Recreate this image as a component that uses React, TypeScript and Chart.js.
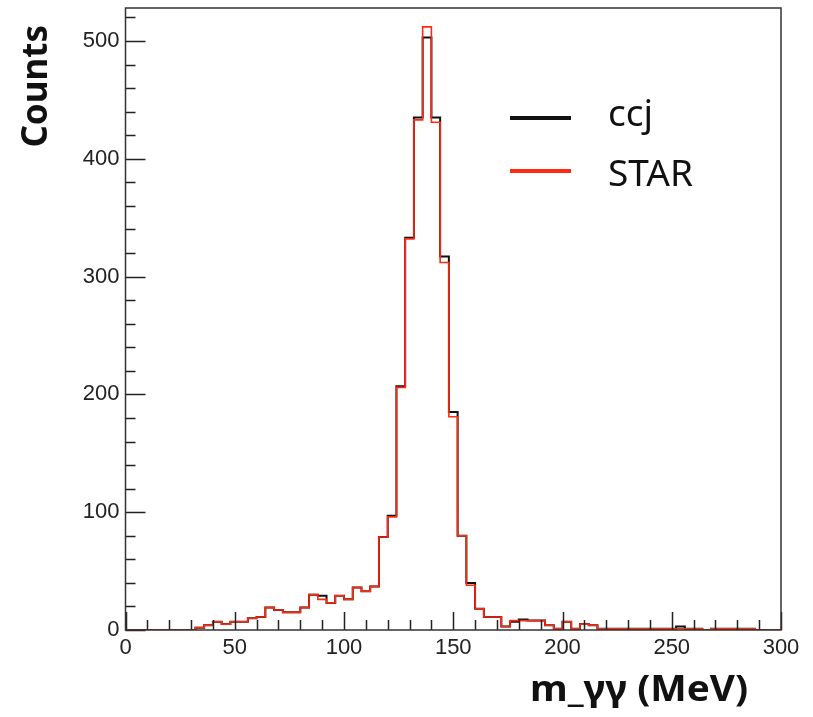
import { useEffect, useRef } from 'react';
import { Chart, registerables } from 'chart.js';

Chart.register(...registerables);

// Histogram bins: low edges (MeV), 4 MeV wide, 0..300
const binLowEdges = [
  0, 4, 8, 12, 16, 20, 24, 28, 32, 36, 40, 44, 48, 52, 56, 60, 64, 68, 72, 76,
  80, 84, 88, 92, 96, 100, 104, 108, 112, 116, 120, 124, 128, 132, 136, 140, 144, 148, 152, 156,
  160, 164, 168, 172, 176, 180, 184, 188, 192, 196, 200, 204, 208, 212, 216, 220, 224, 228, 232, 236,
  240, 244, 248, 252, 256, 260, 264, 268, 272, 276, 280, 284, 288, 292, 296,
];
const xUpperEdge = 300;

const ccjCounts = [
  0, 0, 0, 0, 0, 0, 0, 0, 2, 4, 7, 5, 7, 7, 10, 11, 19, 17, 15, 15,
  19, 30, 29, 23, 29, 26, 36, 33, 37, 79, 97, 207, 333, 435, 503, 435, 317, 185, 80, 40,
  18, 11, 11, 3, 7, 9, 8, 8, 4, 1, 7, 1, 5, 4, 1, 1, 1, 1, 1, 1,
  1, 1, 1, 3, 1, 1, 0, 1, 1, 1, 1, 1, 0, 0, 0,
];
const starCounts = [
  0, 0, 0, 0, 0, 0, 0, 0, 2, 4, 7, 5, 7, 7, 10, 11, 19, 17, 15, 15,
  19, 30, 26, 23, 29, 26, 36, 33, 37, 79, 96, 206, 332, 433, 512, 431, 312, 181, 80, 38,
  18, 11, 11, 3, 8, 8, 8, 8, 4, 1, 7, 1, 5, 4, 1, 1, 1, 1, 1, 1,
  1, 1, 1, 1, 1, 1, 0, 1, 1, 1, 1, 1, 0, 0, 0,
];

const seriesNames = ['ccj', 'STAR'];
const seriesColors = ['#111111', '#ff2a12'];
const xTickValues = [0, 50, 100, 150, 200, 250, 300];
const yTickValues = [0, 100, 200, 300, 400, 500];
const xTitle = 'm_γγ (MeV)';
const yTitle = 'Counts';
const Y_MAX = 528;

function toSteps(vals: number[]) {
  const pts = binLowEdges.map((x, i) => ({ x, y: vals[i] }));
  pts.push({ x: xUpperEdge, y: vals[vals.length - 1] });
  return pts;
}

const rootStyle = {
  id: 'rootStyle',
  afterDraw(chart: any) {
    const { ctx, chartArea } = chart;
    const xs = chart.scales.x;
    const ys = chart.scales.y;
    const { left, right, top, bottom } = chartArea;
    ctx.save();
    // ticks (inside)
    ctx.strokeStyle = '#222';
    ctx.lineWidth = 1.5;
    ctx.beginPath();
    for (let v = 0; v <= 300; v += 10) {
      const px = Math.round(xs.getPixelForValue(v)) + 0.5;
      const len = v % 50 === 0 ? 18 : 10;
      ctx.moveTo(px, bottom);
      ctx.lineTo(px, bottom - len);
    }
    for (let v = 0; v <= Y_MAX; v += 20) {
      const py = Math.round(ys.getPixelForValue(v)) + 0.5;
      const len = v % 100 === 0 ? 20 : 10;
      ctx.moveTo(left, py);
      ctx.lineTo(left + len, py);
    }
    ctx.stroke();
    // frame
    ctx.strokeStyle = '#333';
    ctx.lineWidth = 1.5;
    ctx.strokeRect(left, top, right - left, bottom - top);

    // axis titles
    ctx.fillStyle = '#111';
    ctx.font = 'bold 35px "Noto Sans"';
    ctx.textBaseline = 'alphabetic';
    ctx.textAlign = 'left';
    const w = ctx.measureText(xTitle).width;
    const targetW = 218;
    ctx.save();
    ctx.translate(748 - targetW, 701);
    ctx.scale(targetW / w, 1);
    ctx.fillText(xTitle, 0, 0);
    ctx.restore();

    ctx.save();
    ctx.translate(47, 25);
    ctx.rotate(-Math.PI / 2);
    ctx.textAlign = 'right';
    ctx.fillText(yTitle, 0, 0);
    ctx.restore();

    // legend
    const legY = [118, 171];
    const textY = [126, 186];
    ctx.font = '37px "Noto Sans"';
    ctx.textAlign = 'left';
    seriesNames.forEach((name, i) => {
      ctx.strokeStyle = seriesColors[i];
      ctx.lineWidth = 4;
      ctx.beginPath();
      ctx.moveTo(510, legY[i]);
      ctx.lineTo(571, legY[i]);
      ctx.stroke();
      ctx.fillStyle = '#111';
      ctx.fillText(name, 608, textY[i]);
    });
    ctx.restore();
  },
};

export default function App() {
  const ref = useRef<HTMLCanvasElement>(null);
  useEffect(() => {
    if (!ref.current) return;
    const chart = new Chart(ref.current, {
      type: 'line',
      data: {
        datasets: [
          {
            label: seriesNames[1],
            data: toSteps(starCounts),
            borderColor: seriesColors[1],
            borderWidth: 1.6,
            stepped: true,
            pointRadius: 0,
            fill: false,
            order: 0,
          },
          {
            label: seriesNames[0],
            data: toSteps(ccjCounts),
            borderColor: seriesColors[0],
            borderWidth: 2,
            stepped: true,
            pointRadius: 0,
            fill: false,
            order: 1,
          },
        ],
      },
      plugins: [rootStyle],
      options: {
        animation: false,
        responsive: false,
        devicePixelRatio: 1,
        layout: { padding: { left: 0, top: 8, right: 32, bottom: 0 } },
        plugins: { legend: { display: false }, tooltip: { enabled: false } },
        scales: {
          x: {
            type: 'linear',
            min: 0,
            max: 300,
            afterFit: (s: any) => { s.height = 87; s.paddingLeft = 0; s.paddingRight = 0; },
            afterBuildTicks: (s: any) => { s.ticks = xTickValues.map((value) => ({ value })); },
            ticks: {
              font: { family: '"Liberation Sans", Arial', size: 22 },
              color: '#222',
              padding: 5,
              maxRotation: 0,
              autoSkip: false,
            },
            grid: { display: false, drawTicks: false },
            border: { display: false },
          },
          y: {
            type: 'linear',
            min: 0,
            max: Y_MAX,
            afterFit: (s: any) => { s.width = 125.5; s.paddingTop = 0; s.paddingBottom = 0; },
            afterBuildTicks: (s: any) => { s.ticks = yTickValues.map((value) => ({ value })); },
            ticks: {
              font: { family: '"Liberation Sans", Arial', size: 22 },
              color: '#222',
              padding: 6,
              autoSkip: false,
            },
            grid: { display: false, drawTicks: false },
            border: { display: false },
          },
        },
      },
    });
    return () => chart.destroy();
  }, []);
  return (
    <div style={{ position: 'absolute', left: 0, top: 0, width: 813, height: 717, background: '#fff' }}>
      <canvas ref={ref} width={813} height={717} />
    </div>
  );
}
